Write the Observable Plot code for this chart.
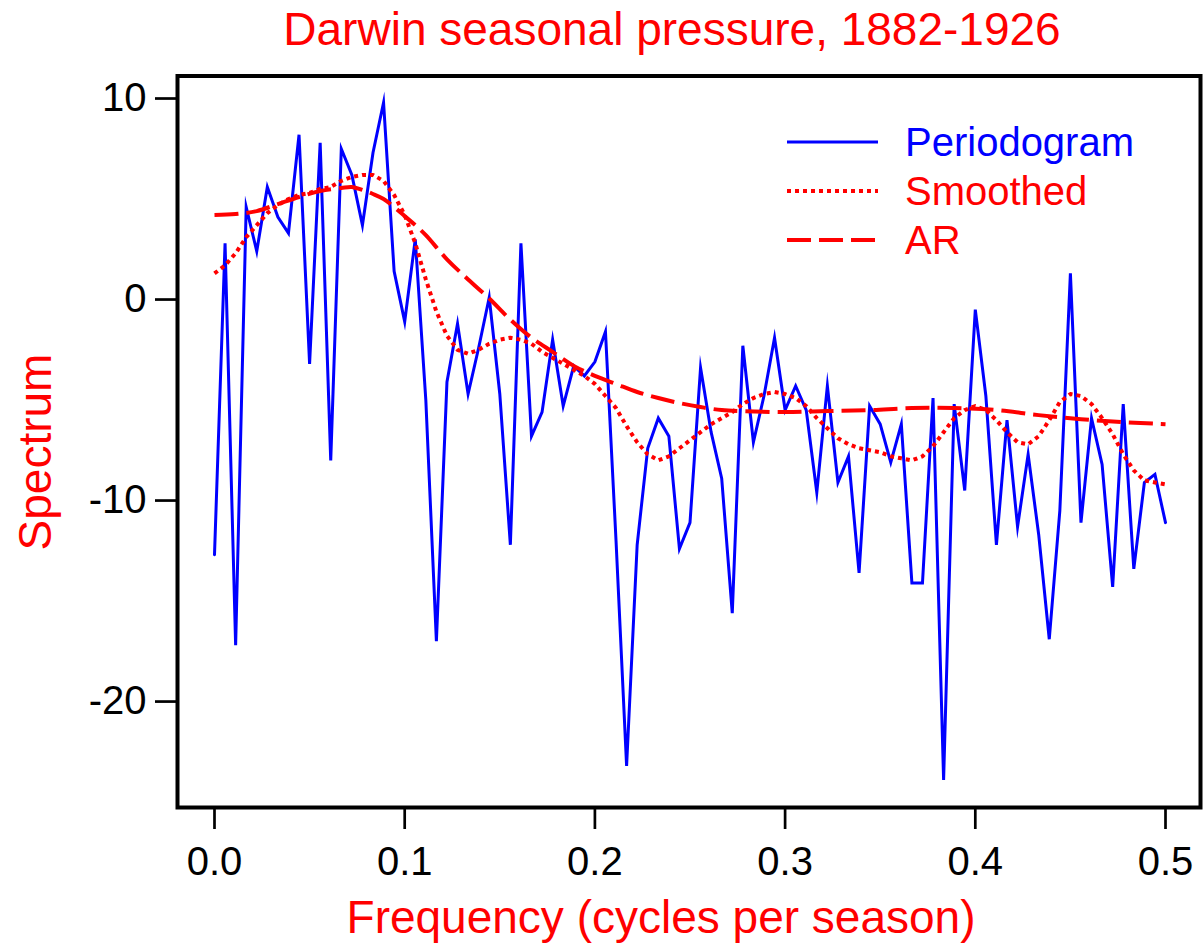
<!DOCTYPE html>
<html>
<head>
<meta charset="utf-8">
<script src="https://cdn.jsdelivr.net/npm/d3@7"></script>
<script src="https://cdn.jsdelivr.net/npm/@observablehq/plot@0.6"></script>
<style>
  body { margin: 0; background: #fff; font-family: "Liberation Sans", Arial, Helvetica, sans-serif; }
  #wrap { position: relative; width: 1203px; height: 950px; overflow: hidden; }
  #chart { position: absolute; left: 0; top: 0; }
  .txt { position: absolute; white-space: nowrap; color: #ff0000; }
  #title { left: 672px; top: 6px; font-size: 46px; line-height: 46px; transform: translateX(-50%); }
  #xlab { left: 661px; top: 894px; font-size: 46px; line-height: 46px; transform: translateX(-50%); }
  #ylab { left: 35px; top: 452px; font-size: 46px; line-height: 46px; transform: translate(-50%, -50%) rotate(-90deg); }
  .leg { position: absolute; left: 787px; height: 40px; display: flex; align-items: center; font-size: 40px; line-height: 40px; white-space: nowrap; }
  .leg svg { display: block; margin-right: 27px; }
</style>
</head>
<body>
<div id="wrap">
  <div id="chart"></div>
  <div id="title" class="txt">Darwin seasonal pressure, 1882-1926</div>
  <div id="xlab" class="txt">Frequency (cycles per season)</div>
  <div id="ylab" class="txt">Spectrum</div>
  <div id="legend"></div>
</div>
<script>
// ---- Data ----
const nSeasons = 180; // 1882-1926, four seasons per year
// Periodogram values (dB) at Fourier frequencies k/180, k = 0..90
const periodogram = [
  -12.7, 2.8, -17.2, 4.6, 2.4, 5.6, 4.1, 3.3, 8.2, -3.2,
  7.8, -8.0, 7.5, 6.2, 3.7, 7.3, 9.8, 1.4, -1.1, 3.0,
  -5.0, -17.0, -4.1, -1.2, -4.7, -2.4, 0.1, -4.7, -12.2, 2.8,
  -6.8, -5.6, -2.0, -5.3, -3.3, -3.8, -3.1, -1.6, -12.0, -23.2,
  -12.2, -7.4, -5.9, -6.8, -12.4, -11.1, -3.4, -6.6, -8.9, -15.6,
  -2.3, -7.1, -4.8, -1.9, -5.5, -4.3, -5.5, -9.6, -4.3, -9.1,
  -7.8, -13.6, -5.3, -6.2, -8.1, -6.2, -14.1, -14.1, -4.9, -23.9,
  -5.2, -9.5, -0.5, -4.8, -12.2, -6.0, -11.3, -7.7, -11.7, -16.9,
  -10.5, 1.3, -11.1, -5.9, -8.2, -14.3, -5.2, -13.4, -9.1, -8.7,
  -11.1
];
// Smoothed periodogram at the same frequencies
const smoothed = [
  1.3, 1.7, 2.3, 3.1, 3.7, 4.3, 4.7, 5.0, 5.2, 5.3,
  5.5, 5.6, 5.9, 6.1, 6.2, 6.2, 5.9, 5.2, 4.2, 2.8,
  1.0, -0.6, -1.8, -2.5, -2.7, -2.5, -2.2, -2.0, -1.9, -2.0,
  -2.2, -2.6, -2.9, -3.2, -3.5, -3.8, -4.2, -4.8, -5.4, -6.3,
  -7.1, -7.7, -8.0, -7.8, -7.4, -7.0, -6.6, -6.2, -5.9, -5.6,
  -5.2, -4.9, -4.7, -4.6, -4.7, -4.9, -5.3, -5.9, -6.4, -6.9,
  -7.2, -7.4, -7.5, -7.6, -7.8, -7.9, -8.0, -7.8, -7.3, -6.6,
  -5.9, -5.5, -5.3, -5.5, -6.0, -6.6, -7.1, -7.2, -6.8, -6.0,
  -5.1, -4.7, -4.8, -5.2, -5.9, -6.7, -7.7, -8.5, -9.0, -9.1,
  -9.2
];
// AR spectrum, read at selected frequency indices k (frequency = k/180)
const arK   = [0, 2, 4, 6, 8, 10, 12, 13, 14, 15, 16, 17, 18, 19, 20, 22, 24, 26, 28, 30,
               32, 34, 36, 38, 40, 42, 44, 46, 48, 50, 54, 58, 62, 66, 70, 74, 78, 82, 86, 90];
const arVal = [4.2, 4.25, 4.4, 4.75, 5.1, 5.4, 5.55, 5.6, 5.45, 5.25, 5.0, 4.6, 4.15, 3.7, 3.2, 2.0, 1.0, 0.05, -1.0, -1.9,
               -2.6, -3.3, -3.8, -4.2, -4.6, -4.9, -5.15, -5.35, -5.5, -5.55, -5.6, -5.55, -5.5, -5.4, -5.4, -5.5, -5.75, -5.95, -6.1, -6.2];
const xTicks = [0, 0.1, 0.2, 0.3, 0.4, 0.5];
const yTicks = [-20, -10, 0, 10];
const legendItems = ["Periodogram", "Smoothed", "AR"];

// ---- Build tables ----
const pData = periodogram.map((v, k) => ({freq: k / nSeasons, value: v}));
const sData = smoothed.map((v, k) => ({freq: k / nSeasons, value: v}));
const aData = arK.map((k, i) => ({freq: k / nSeasons, value: arVal[i]}));

const BLUE = "#0000ff", RED = "#ff0000";
const styles = {
  Periodogram: {stroke: BLUE, strokeWidth: 3, dash: null, color: BLUE},
  Smoothed: {stroke: RED, strokeWidth: 4, dash: "4,4", color: RED},
  AR: {stroke: RED, strokeWidth: 4, dash: "24,8", color: RED}
};

const chart = Plot.plot({
  width: 1203,
  height: 950,
  marginLeft: 177,
  marginRight: 3,
  marginTop: 75.5,
  marginBottom: 143,
  x: {domain: [-0.01945, 0.5184]},
  y: {domain: [-25.27, 11.12]},
  style: {fontFamily: "'Liberation Sans', Arial, Helvetica, sans-serif", background: "transparent", color: "black"},
  marks: [
    Plot.axisX({ticks: xTicks, tickFormat: d => d.toFixed(1), tickSize: 22, tickPadding: 17, fontSize: 40, strokeWidth: 2.7, label: null}),
    Plot.axisY({ticks: yTicks, tickFormat: d => String(d), tickSize: 22, tickPadding: 9, fontSize: 40, strokeWidth: 2.7, label: null}),
    Plot.line(pData, {x: "freq", y: "value", stroke: BLUE, strokeWidth: 3, strokeLinejoin: "miter", strokeMiterlimit: 10}),
    Plot.line(sData, {x: "freq", y: "value", stroke: RED, strokeWidth: 4, strokeDasharray: "4,4", strokeLinecap: "butt"}),
    Plot.line(aData, {x: "freq", y: "value", stroke: RED, strokeWidth: 4, strokeDasharray: "24,8", strokeLinecap: "butt", curve: "catmull-rom"}),
    Plot.frame({stroke: "black", strokeWidth: 4})
  ]
});
document.getElementById("chart").appendChild(chart);

// ---- Legend ----
const legendY = [142, 191, 240];
const legend = document.getElementById("legend");
legendItems.forEach((name, i) => {
  const s = styles[name];
  const row = document.createElement("div");
  row.className = "leg";
  row.style.top = (legendY[i] - 20) + "px";
  row.style.color = s.color;
  row.innerHTML = `<svg width="91" height="40"><line x1="0" x2="91" y1="20" y2="20" stroke="${s.stroke}" stroke-width="${s.strokeWidth}" ${s.dash ? `stroke-dasharray="${s.dash}"` : ""}/></svg><span>${name}</span>`;
  legend.appendChild(row);
});
</script>
</body>
</html>
